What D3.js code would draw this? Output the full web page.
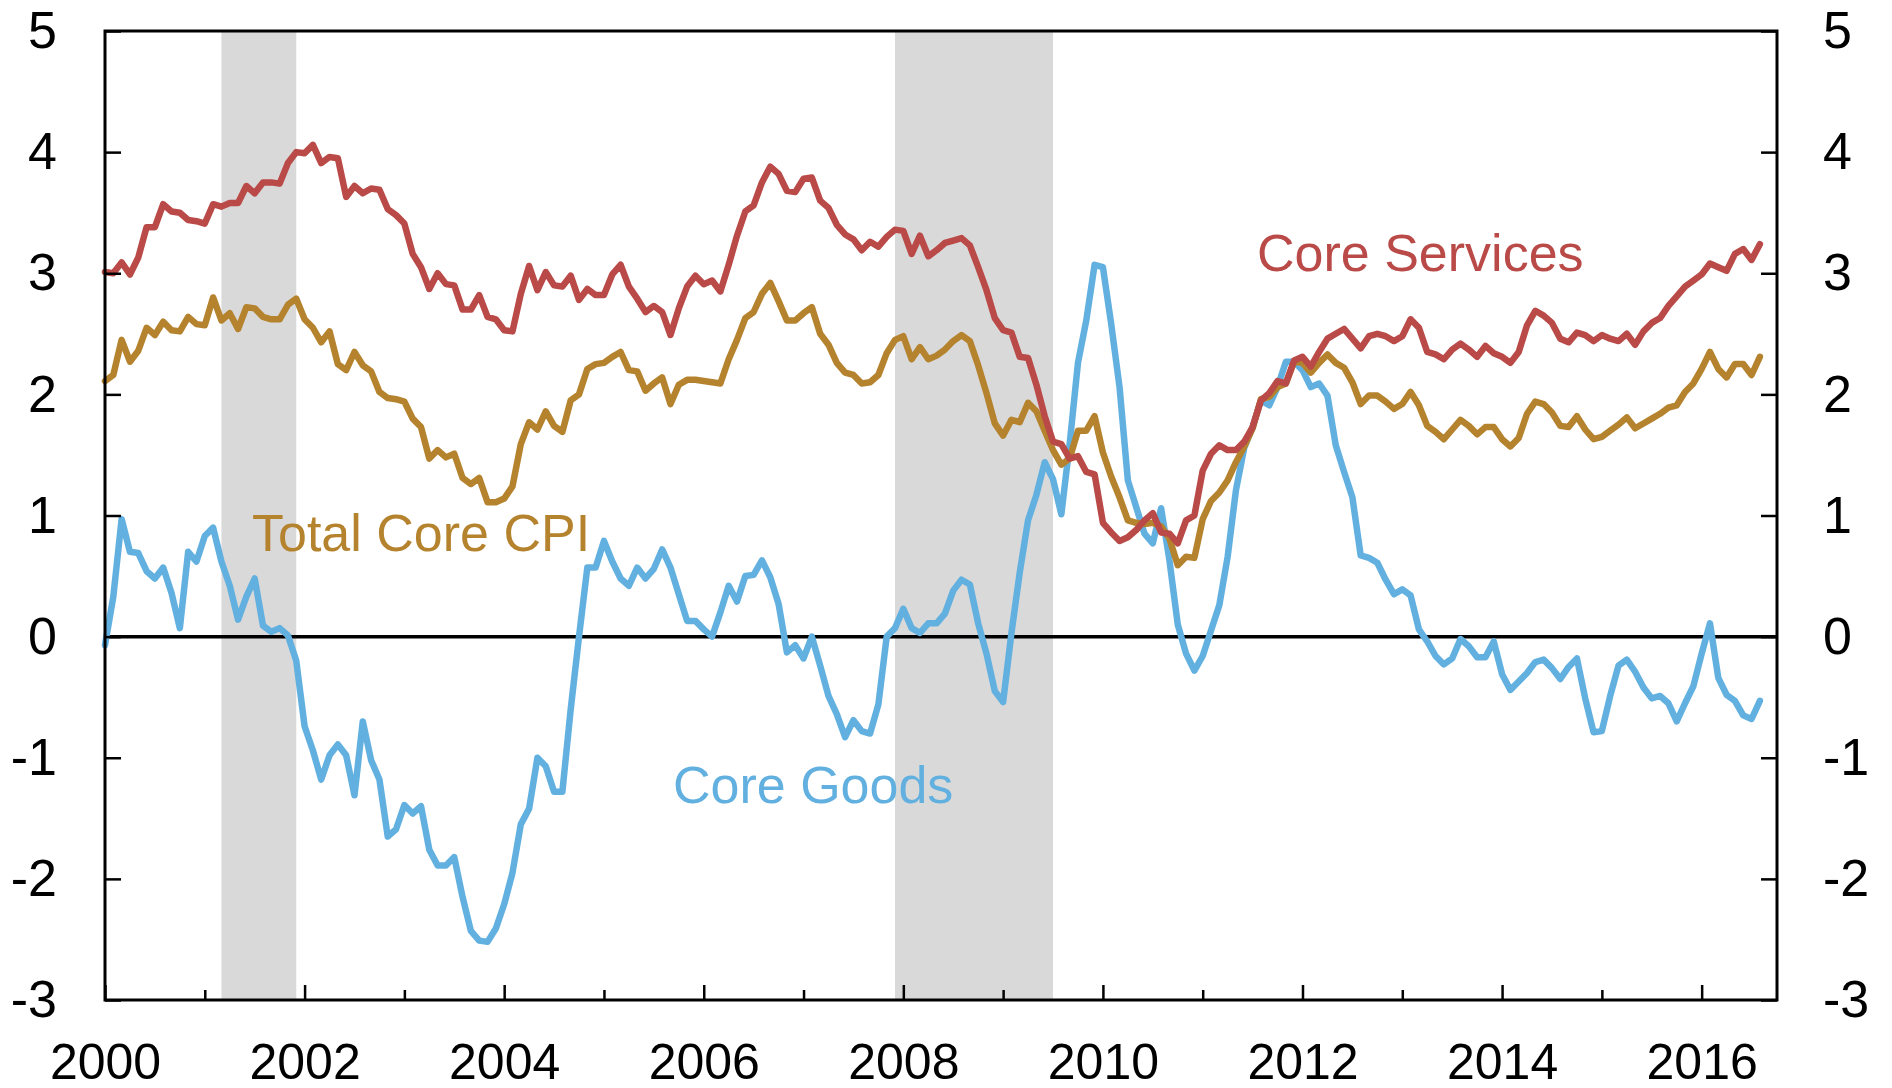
<!DOCTYPE html>
<html>
<head>
<meta charset="utf-8">
<script src="https://cdn.jsdelivr.net/npm/d3@7"></script>
<style>
  html, body { margin: 0; padding: 0; background: #fff; }
  svg text { font-family: Arial, "Liberation Sans", sans-serif; }
</style>
</head>
<body>
<div id="chart"></div>
<script>
// monthly values, Jan 2000 onward (12 per line)
const startYear = 2000;

const coreServices = [
  3.01, 3.00, 3.09, 2.99, 3.13, 3.38, 3.38, 3.57, 3.51, 3.50, 3.44, 3.43,
  3.41, 3.57, 3.55, 3.58, 3.58, 3.72, 3.66, 3.75, 3.75, 3.74, 3.91, 4.00,
  3.99, 4.06, 3.91, 3.96, 3.95, 3.63, 3.72, 3.66, 3.70, 3.69, 3.53, 3.48,
  3.41, 3.16, 3.05, 2.87, 3.00, 2.91, 2.90, 2.70, 2.70, 2.82, 2.64, 2.62,
  2.53, 2.52, 2.83, 3.06, 2.86, 3.01, 2.90, 2.89, 2.98, 2.78, 2.87, 2.82,
  2.82, 2.99, 3.07, 2.89, 2.79, 2.68, 2.73, 2.68, 2.49, 2.71, 2.89, 2.98,
  2.91, 2.94, 2.85, 3.07, 3.31, 3.51, 3.56, 3.75, 3.88, 3.82, 3.68, 3.67,
  3.78, 3.79, 3.60, 3.54, 3.40, 3.32, 3.28, 3.19, 3.26, 3.22, 3.30, 3.36,
  3.35, 3.16, 3.31, 3.14, 3.19, 3.25, 3.27, 3.29, 3.23, 3.05, 2.86, 2.63,
  2.53, 2.51, 2.31, 2.30, 2.08, 1.82, 1.61, 1.59, 1.47, 1.49, 1.36, 1.34,
  0.94, 0.86, 0.79, 0.82, 0.88, 0.96, 1.02, 0.86, 0.85, 0.77, 0.96, 1.00,
  1.37, 1.51, 1.58, 1.54, 1.54, 1.61, 1.73, 1.95, 2.01, 2.11, 2.09, 2.28,
  2.31, 2.23, 2.35, 2.46, 2.50, 2.54, 2.46, 2.38, 2.48, 2.50, 2.48, 2.44,
  2.48, 2.62, 2.55, 2.35, 2.33, 2.29, 2.37, 2.42, 2.37, 2.31, 2.40, 2.34,
  2.31, 2.26, 2.35, 2.57, 2.69, 2.65, 2.59, 2.46, 2.43, 2.51, 2.49, 2.44,
  2.49, 2.46, 2.44, 2.50, 2.41, 2.52, 2.59, 2.63, 2.73, 2.81, 2.89, 2.94,
  2.99, 3.08, 3.05, 3.02, 3.16, 3.20, 3.11, 3.24
];

const totalCoreCPI = [
  2.11, 2.16, 2.45, 2.27, 2.36, 2.55, 2.49, 2.60, 2.53, 2.52, 2.64, 2.58,
  2.57, 2.80, 2.61, 2.67, 2.54, 2.72, 2.71, 2.64, 2.62, 2.62, 2.74, 2.79,
  2.62, 2.55, 2.43, 2.52, 2.25, 2.20, 2.35, 2.24, 2.19, 2.02, 1.97, 1.96,
  1.94, 1.80, 1.73, 1.47, 1.54, 1.48, 1.51, 1.31, 1.26, 1.31, 1.11, 1.11,
  1.14, 1.24, 1.59, 1.77, 1.71, 1.86, 1.74, 1.69, 1.95, 2.00, 2.21, 2.25,
  2.26, 2.31, 2.35, 2.20, 2.19, 2.03, 2.09, 2.14, 1.92, 2.08, 2.12, 2.12,
  2.11, 2.10, 2.09, 2.29, 2.45, 2.63, 2.68, 2.83, 2.92, 2.77, 2.61, 2.61,
  2.67, 2.72, 2.50, 2.41, 2.26, 2.18, 2.16, 2.09, 2.10, 2.16, 2.34, 2.45,
  2.48, 2.29, 2.39, 2.29, 2.32, 2.37, 2.44, 2.49, 2.44, 2.24, 2.01, 1.76,
  1.66, 1.79, 1.77, 1.93, 1.86, 1.70, 1.54, 1.42, 1.47, 1.70, 1.70, 1.82,
  1.52, 1.32, 1.15, 0.96, 0.94, 0.93, 0.94, 0.91, 0.81, 0.59, 0.66, 0.65,
  0.97, 1.12, 1.19, 1.29, 1.44, 1.57, 1.72, 1.96, 1.98, 2.06, 2.09, 2.27,
  2.26, 2.18, 2.26, 2.33, 2.26, 2.22, 2.10, 1.92, 1.99, 1.99, 1.94, 1.88,
  1.92, 2.02, 1.91, 1.74, 1.69, 1.63, 1.71, 1.79, 1.74, 1.67, 1.73, 1.73,
  1.63, 1.57, 1.64, 1.84, 1.94, 1.92, 1.85, 1.74, 1.73, 1.82, 1.71, 1.63,
  1.65, 1.70, 1.75, 1.81, 1.72, 1.76, 1.80, 1.84, 1.89, 1.91, 2.02, 2.09,
  2.21, 2.35, 2.21, 2.14, 2.25, 2.25, 2.16, 2.31
];

const coreGoods = [
  -0.07, 0.33, 0.97, 0.70, 0.69, 0.54, 0.48, 0.57, 0.36, 0.07, 0.70, 0.62,
  0.83, 0.90, 0.62, 0.42, 0.14, 0.33, 0.48, 0.09, 0.04, 0.07, 0.01, -0.20,
  -0.74, -0.94, -1.18, -0.98, -0.89, -0.98, -1.31, -0.70, -1.02, -1.18, -1.65, -1.59,
  -1.39, -1.46, -1.40, -1.76, -1.89, -1.89, -1.82, -2.15, -2.43, -2.51, -2.52, -2.41,
  -2.21, -1.95, -1.55, -1.42, -1.00, -1.07, -1.28, -1.28, -0.60, 0.00, 0.57, 0.57,
  0.79, 0.62, 0.48, 0.42, 0.57, 0.48, 0.56, 0.72, 0.57, 0.35, 0.13, 0.13,
  0.06, 0.00, 0.20, 0.42, 0.29, 0.50, 0.51, 0.63, 0.49, 0.27, -0.13, -0.07,
  -0.18, 0.00, -0.24, -0.49, -0.64, -0.83, -0.69, -0.78, -0.80, -0.56, 0.00, 0.07,
  0.23, 0.07, 0.03, 0.11, 0.11, 0.19, 0.38, 0.47, 0.43, 0.11, -0.14, -0.45,
  -0.54, 0.03, 0.53, 0.96, 1.17, 1.44, 1.30, 1.01, 1.59, 2.26, 2.61, 3.07,
  3.05, 2.58, 2.06, 1.29, 1.07, 0.85, 0.77, 1.06, 0.63, 0.10, -0.14, -0.28,
  -0.16, 0.05, 0.26, 0.66, 1.21, 1.56, 1.73, 1.95, 1.91, 2.06, 2.27, 2.27,
  2.20, 2.06, 2.09, 1.99, 1.58, 1.36, 1.15, 0.67, 0.65, 0.61, 0.47, 0.35,
  0.39, 0.34, 0.06, -0.04, -0.16, -0.23, -0.18, -0.02, -0.08, -0.17, -0.17, -0.04,
  -0.31, -0.44, -0.37, -0.30, -0.21, -0.19, -0.26, -0.35, -0.25, -0.18, -0.51, -0.79,
  -0.78, -0.49, -0.24, -0.19, -0.29, -0.42, -0.51, -0.49, -0.55, -0.70, -0.55, -0.41,
  -0.14, 0.11, -0.34, -0.48, -0.53, -0.65, -0.68, -0.53
];

// recession bands (decimal years)
const recessionStart = [2001 + 2 / 12, 2007 + 11 / 12];
const recessionEnd = [2001 + 11 / 12, 2009 + 6 / 12];

const majorYears = [2000, 2002, 2004, 2006, 2008, 2010, 2012, 2014, 2016];
const minorYears = [2001, 2003, 2005, 2007, 2009, 2011, 2013, 2015];
const yTicks = [-3, -2, -1, 0, 1, 2, 3, 4, 5];

const seriesNames = ["Core Goods", "Total Core CPI", "Core Services"];

// ---- drawing ----
const W = 1892, H = 1088;
const plot = { left: 105, right: 1777, top: 31, bottom: 1000 };
const colors = { "Core Services": "#b94a48", "Total Core CPI": "#b5832e", "Core Goods": "#62b0e0" };
const fontSize = 52;

const svg = d3.select("#chart").append("svg")
    .attr("width", W)
    .attr("height", H);

const x = d3.scaleLinear()
    .domain([2000, 2016.755])
    .range([plot.left, plot.right]);

const y = d3.scaleLinear()
    .domain([-3, 5])
    .range([plot.bottom, plot.top]);

// recession shading
svg.append("g").selectAll("rect")
  .data(recessionStart.map((s, i) => [s, recessionEnd[i]]))
  .enter().append("rect")
    .attr("x", d => x(d[0]))
    .attr("y", plot.top)
    .attr("width", d => x(d[1]) - x(d[0]))
    .attr("height", plot.bottom - plot.top)
    .attr("fill", "#d9d9d9");

// zero line
svg.append("line")
    .attr("x1", plot.left).attr("x2", plot.right)
    .attr("y1", y(0)).attr("y2", y(0))
    .attr("stroke", "#000")
    .attr("stroke-width", 3.5);

// series lines
const series = {
  "Core Services": coreServices,
  "Total Core CPI": totalCoreCPI,
  "Core Goods": coreGoods
};

const line = d3.line()
    .x((d, i) => x(startYear + i / 12))
    .y(d => y(d));

seriesNames.forEach(name => {
  svg.append("path")
      .datum(series[name])
      .attr("fill", "none")
      .attr("stroke", colors[name])
      .attr("stroke-width", 6.5)
      .attr("stroke-linejoin", "round")
      .attr("stroke-linecap", "round")
      .attr("d", line);
});

// axes
function styleAxis(g) {
  g.select(".domain").remove();
  g.selectAll(".tick line").attr("stroke", "#000").attr("stroke-width", 2.5);
  g.selectAll(".tick text")
      .attr("font-size", fontSize)
      .attr("fill", "#000")
      .attr("font-family", "Arial, 'Liberation Sans', sans-serif");
}

const xAxisG = svg.append("g")
    .attr("transform", "translate(0," + plot.bottom + ")")
    .call(d3.axisBottom(x).tickValues(majorYears).tickFormat(d3.format("d"))
      .tickSize(-15).tickPadding(43))
    .call(styleAxis);
xAxisG.selectAll(".tick text").attr("font-size", 50);

svg.append("g")
    .attr("transform", "translate(0," + plot.bottom + ")")
    .call(d3.axisBottom(x).tickValues(minorYears).tickFormat("")
      .tickSize(-10))
    .call(styleAxis);

svg.append("g")
    .attr("transform", "translate(" + plot.left + ",0)")
    .call(d3.axisLeft(y).tickValues(yTicks).tickFormat(d3.format("d"))
      .tickSize(-16).tickPadding(48))
    .call(styleAxis);

svg.append("g")
    .attr("transform", "translate(" + plot.right + ",0)")
    .call(d3.axisRight(y).tickValues(yTicks).tickFormat(d3.format("d"))
      .tickSize(-16).tickPadding(46))
    .call(styleAxis);

// hyphen minus like the original
svg.selectAll(".tick text").text(function() { return this.textContent.replace("\u2212", "-"); });

// frame
svg.append("rect")
    .attr("x", plot.left).attr("y", plot.top)
    .attr("width", plot.right - plot.left)
    .attr("height", plot.bottom - plot.top)
    .attr("fill", "none")
    .attr("stroke", "#000")
    .attr("stroke-width", 3);

// series labels
const labels = [
  { name: "Core Services", x: 1257, y: 271 },
  { name: "Total Core CPI", x: 252, y: 551 },
  { name: "Core Goods", x: 673, y: 803 }
];

svg.selectAll("text.series-label")
  .data(labels)
  .enter().append("text")
    .attr("class", "series-label")
    .attr("x", d => d.x)
    .attr("y", d => d.y)
    .attr("font-size", fontSize)
    .attr("fill", d => colors[d.name])
    .text(d => d.name);
</script>
</body>
</html>
